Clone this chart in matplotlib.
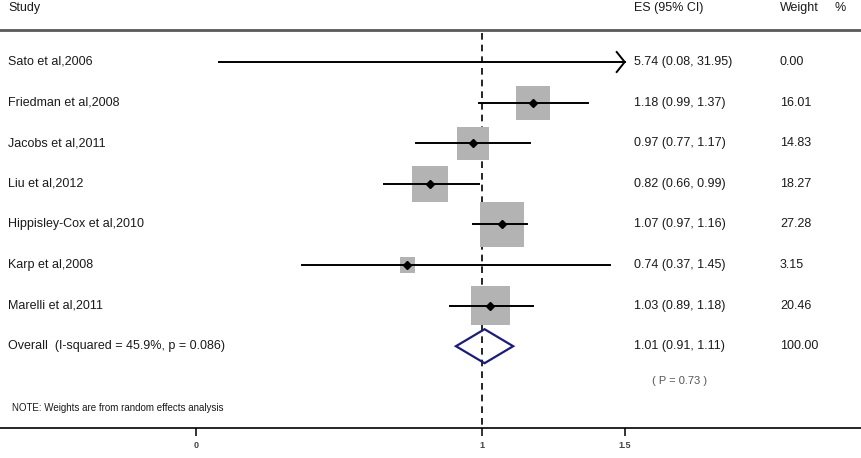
import matplotlib.pyplot as plt
from matplotlib.patches import Rectangle, Polygon
import matplotlib.transforms as mtransforms
import numpy as np

plt.rcParams['font.family'] = ['Liberation Sans', 'DejaVu Sans']

studies = ['Sato et al,2006', 'Friedman et al,2008', 'Jacobs et al,2011', 'Liu et al,2012',
           'Hippisley-Cox et al,2010', 'Karp et al,2008', 'Marelli et al,2011']
es = [5.74, 1.18, 0.97, 0.82, 1.07, 0.74, 1.03]
lo = [0.08, 0.99, 0.77, 0.66, 0.97, 0.37, 0.89]
hi = [31.95, 1.37, 1.17, 0.99, 1.16, 1.45, 1.18]
weights = [0.00, 16.01, 14.83, 18.27, 27.28, 3.15, 20.46]
overall_es, overall_lo, overall_hi = 1.01, 0.91, 1.11
i_squared, p_het = 45.9, 0.086
p_overall = 0.73
xticks = [0, 1, 1.5]
x_clip = 1.5

# layout (pixel-based, y axis in pixels)
W, H = 862, 458
px0, px_per_unit = 195.7, 286.0
row_y = 62 + 40.6 * np.arange(len(studies))
overall_y = 62 + 40.6 * len(studies)
box_k = 8.5  # px per sqrt(weight)

fig = plt.figure(figsize=(W / 100, H / 100), dpi=100)
ax = fig.add_axes([0, 0, 1, 1])
ax.set_xlim(-px0 / px_per_unit, (W - px0) / px_per_unit)
ax.set_ylim(H, 0)
ax.patch.set_visible(False)

txt = mtransforms.blended_transform_factory(ax.transAxes, ax.transData)
tc = '#1a1a1a'

# header
ax.text(8 / W, 8, 'Study', transform=txt, fontsize=9, color=tc, va='center')
ax.text(634 / W, 8, 'ES (95% CI)', transform=txt, fontsize=9, color=tc, va='center')
ax.text(780 / W, 8, 'Weight', transform=txt, fontsize=9, color=tc, va='center')
ax.text(835 / W, 8, '%', transform=txt, fontsize=9, color=tc, va='center')
ax.axhline(30, color='#5a5a5a', lw=2)

# null line
ax.plot([1, 1], [33, 428], color='black', lw=1.2, ls=(0, (4, 3)), zorder=1)

for i, name in enumerate(studies):
    y = row_y[i]
    ax.text(8 / W, y, name, transform=txt, fontsize=9, color=tc, va='center')
    ax.text(634 / W, y, f'{es[i]:.2f} ({lo[i]:.2f}, {hi[i]:.2f})', transform=txt,
            fontsize=9, color=tc, va='center')
    ax.text(780 / W, y, f'{weights[i]:.2f}', transform=txt, fontsize=9, color=tc, va='center')
    side = box_k * np.sqrt(weights[i])
    if side > 0:
        ax.add_patch(Rectangle((es[i] - side / 2 / px_per_unit, y - side / 2),
                               side / px_per_unit, side, color='#b3b3b3', lw=0, zorder=2))
    right = min(hi[i], x_clip)
    ax.plot([lo[i], right], [y, y], color='black', lw=1.4, zorder=3)
    if hi[i] > x_clip:
        d = 8 / px_per_unit
        ax.plot([x_clip - d, x_clip, x_clip - d], [y - 10, y, y + 10], color='black', lw=1.4, zorder=3)
    if es[i] <= x_clip:
        ax.plot(es[i], y, marker='D', color='black', ms=4.5, zorder=4)

# overall
ax.text(8 / W, overall_y, f'Overall  (I-squared = {i_squared}%, p = {p_het:.3f})', transform=txt,
        fontsize=9, color=tc, va='center')
ax.text(634 / W, overall_y, f'{overall_es:.2f} ({overall_lo:.2f}, {overall_hi:.2f})', transform=txt,
        fontsize=9, color=tc, va='center')
ax.text(780 / W, overall_y, '100.00', transform=txt, fontsize=9, color=tc, va='center')
ax.add_patch(Polygon([(overall_lo, overall_y), (overall_es, overall_y - 17),
                      (overall_hi, overall_y), (overall_es, overall_y + 17)],
                     closed=True, fill=False, edgecolor='#1c1c78', lw=1.6, zorder=3))
ax.text(652 / W, 381, f'( P = {p_overall} )', transform=txt, fontsize=8, color='#555555', va='center')

ax.text(12 / W, 408, 'NOTE: Weights are from random effects analysis', transform=txt,
        fontsize=7, color=tc, va='center')

# x axis
for s in ['top', 'left', 'right']:
    ax.spines[s].set_visible(False)
ax.spines['bottom'].set_position(('data', 428))
ax.spines['bottom'].set_linewidth(1.2)
ax.set_xticks(xticks)
ax.set_xticklabels([f'{t:g}' for t in xticks], fontweight='bold')
ax.set_yticks([])
ax.tick_params(axis='x', direction='out', length=5.5, width=1.4, labelsize=6.5, pad=4,
               colors='#333333', labelcolor='#444444')

fig.savefig('out.png', dpi=100)
